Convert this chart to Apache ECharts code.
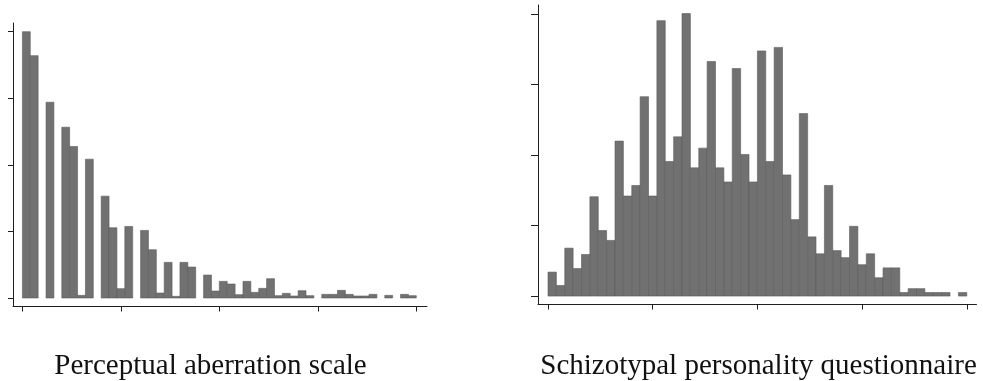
<!DOCTYPE html>
<html>
<head>
<meta charset="utf-8">
<script src="https://cdn.jsdelivr.net/npm/echarts@6/dist/echarts.min.js"></script>
<style>
html,body{margin:0;padding:0;background:#fff;}
#chart{width:983px;height:381px;}
</style>
</head>
<body>
<div id="chart"></div>
<script>
// Histogram bin heights (in units of one y tick interval), 50 bins each
const perceptualValues = [4.0, 3.64, 0, 2.94, 0, 2.565, 2.275, 0.04, 2.085, 0, 1.53, 1.055, 0.14, 1.075, 0, 1.015, 0.725, 0.075, 0.535, 0.025, 0.535, 0.465, 0, 0.345, 0.105, 0.25, 0.21, 0.05, 0.25, 0.085, 0.145, 0.29, 0.035, 0.07, 0.03, 0.11, 0.035, 0, 0.055, 0.055, 0.115, 0.055, 0.03, 0.03, 0.055, 0, 0.04, 0, 0.055, 0.035];
const spqValues = [0.34, 0.15, 0.68, 0.39, 0.59, 1.41, 0.93, 0.79, 2.2, 1.42, 1.57, 2.83, 1.42, 3.91, 1.91, 2.26, 4.01, 1.82, 2.10, 3.33, 1.82, 1.62, 3.23, 2.01, 1.62, 3.48, 1.91, 3.53, 1.72, 1.085, 2.59, 0.84, 0.60, 1.57, 0.645, 0.545, 0.99, 0.445, 0.60, 0.26, 0.40, 0.40, 0.05, 0.105, 0.105, 0.05, 0.05, 0.05, 0, 0.05];
const xTicks = [0, 12.5, 25, 37.5, 50];
const yTicks = [0, 1, 2, 3, 4];
const titles = ['Perceptual aberration scale', 'Schizotypal personality questionnaire'];

const chart = echarts.init(document.getElementById('chart'), null, {renderer: 'canvas'});

const axisColor = '#1e1e1e';
function xAxisDef(gridIndex, min, max) {
  return {
    type: 'value', gridIndex, min, max,
    axisLine: {show: true, onZero: false, lineStyle: {color: axisColor, width: 1}},
    axisTick: {show: true, customValues: xTicks, length: 5, lineStyle: {color: axisColor, width: 1}},
    axisLabel: {show: false},
    splitLine: {show: false}
  };
}
function yAxisDef(gridIndex, min, max, tickLen) {
  return {
    type: 'value', gridIndex, min, max,
    axisLine: {show: true, onZero: false, lineStyle: {color: axisColor, width: 1}},
    axisTick: {show: true, customValues: yTicks, length: tickLen, lineStyle: {color: axisColor, width: 1}},
    axisLabel: {show: false},
    splitLine: {show: false}
  };
}
function renderBin(params, api) {
  const x0 = api.value(0), v = api.value(1);
  if (!v) return null;
  const p0 = api.coord([x0, v]);
  const p1 = api.coord([x0 + 1, 0]);
  return {
    type: 'rect',
    shape: {x: p0[0], y: p0[1], width: p1[0] - p0[0], height: p1[1] - p0[1]},
    style: {fill: '#717171', stroke: '#5c5c5c', lineWidth: 0.6}
  };
}

chart.setOption({
  animation: false,
  backgroundColor: '#fff',
  grid: [
    {left: 13, top: 23, width: 414, height: 283.5},
    {left: 538, top: 5, width: 438.5, height: 299.5}
  ],
  xAxis: [xAxisDef(0, -1.194, 51.36), xAxisDef(1, -1.194, 51.16)],
  yAxis: [yAxisDef(0, -0.1275, 4.13, 5), yAxisDef(1, -0.12, 4.132, 7)],
  series: [
    {type: 'custom', xAxisIndex: 0, yAxisIndex: 0, renderItem: renderBin,
     data: perceptualValues.map((v, i) => [i, v])},
    {type: 'custom', xAxisIndex: 1, yAxisIndex: 1, renderItem: renderBin,
     data: spqValues.map((v, i) => [i, v])}
  ],
  graphic: [
    {type: 'text', x: 210.5, y: 366, style: {text: titles[0], font: '29px "Liberation Serif", "Times New Roman", serif', fill: '#111', align: 'center', verticalAlign: 'middle'}},
    {type: 'text', x: 758.5, y: 366, style: {text: titles[1], font: '29px "Liberation Serif", "Times New Roman", serif', fill: '#111', align: 'center', verticalAlign: 'middle'}}
  ]
});
</script>
</body>
</html>
